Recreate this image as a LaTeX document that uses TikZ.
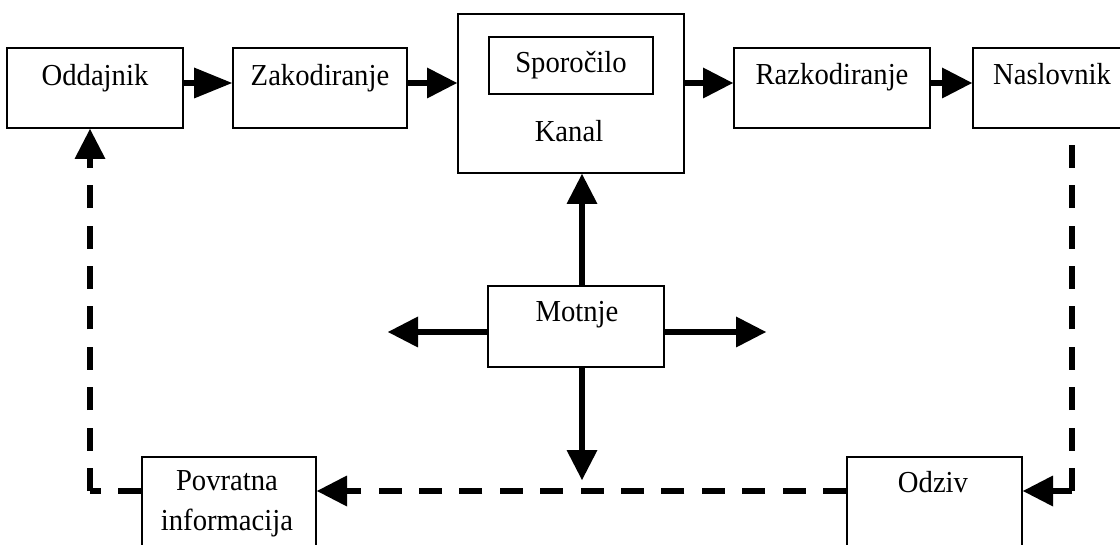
\documentclass[tikz,border=0pt]{standalone}
\usepackage{fontspec}
\setmainfont{Liberation Serif}[FakeStretch=0.94]
\usetikzlibrary{arrows.meta}
\begin{document}
\begin{tikzpicture}[x=1pt,y=-1pt,
  box/.style={draw, line width=2pt, inner sep=0pt, rectangle},
  lbl/.style={inner sep=0pt, anchor=base, font=\fontsize{30.5}{36}\selectfont},
  arr/.style={line width=6pt, -{Triangle[length=30pt,width=31pt,line width=0pt]}},
  arrlong/.style={line width=6pt, -{Triangle[length=38pt,width=31pt,line width=0pt]}},
  dashl/.style={line width=6pt, dash pattern=on 23pt off 17.4pt},
  dasharr/.style={dashl, -{Triangle[length=30pt,width=31pt,line width=0pt]}}
]
\path[use as bounding box, clip] (0,0) rectangle (1120,545);
\fill[white] (0,0) rectangle (1120,545);

% boxes
\node[box, minimum width=176pt, minimum height=80pt] (odd) at (95,88) {};
\node[box, minimum width=174pt, minimum height=80pt] (zak) at (320,88) {};
\node[box, minimum width=226pt, minimum height=159pt] (kan) at (571,93.5) {};
\node[box, minimum width=164pt, minimum height=57pt] (spo) at (571,65.5) {};
\node[box, minimum width=196pt, minimum height=80pt] (raz) at (832,88) {};
\node[box, minimum width=158pt, minimum height=80pt] (nas) at (1052,88) {};
\node[box, minimum width=176pt, minimum height=81pt] (mot) at (576,326.5) {};
\node[box, minimum width=175pt, minimum height=123pt] (odz) at (934.5,518.5) {};
\node[box, minimum width=174pt, minimum height=123pt] (pov) at (229,518.5) {};

% texts
\node[lbl] (toddajnik) at (95,86) {Oddajnik};
\node[lbl] (tzak) at (320,86) {Zakodiranje};
\node[lbl] (tspo) at (571,73) {Sporočilo};
\node[lbl] (tkan) at (569,142) {Kanal};
\node[lbl] (traz) at (832,85) {Razkodiranje};
\node[lbl] (tnas) at (1052,85) {Naslovnik};
\node[lbl] (tmot) at (577,322) {Motnje};
\node[lbl] (todz) at (933,493) {Odziv};
\node[lbl] (tpov1) at (227,490) {Povratna};
\node[lbl] (tpov2) at (227,530) {informacija};

% top chain
\draw[arrlong] ([yshift=5pt]odd.east) -- ([yshift=5pt]zak.west);
\draw[arr] ([yshift=5pt]zak.east) -- ([yshift=10.5pt]kan.west);
\draw[arr] ([yshift=10.5pt]kan.east) -- ([yshift=5pt]raz.west);
\draw[arr] ([yshift=5pt]raz.east) -- ([yshift=5pt]nas.west);

% Motnje arrows
\coordinate (ml) at (388,332);
\coordinate (mr) at (766,332);
\coordinate (md) at (582,480);
\draw[arr] ([xshift=6pt]mot.north) -- ([xshift=11pt]kan.south);
\draw[arr] ([yshift=-5.5pt]mot.west) -- (ml);
\draw[arr] ([yshift=-5.5pt]mot.east) -- (mr);
\draw[arr] ([xshift=6pt]mot.south) -- (md);

% feedback loop
\coordinate (cR) at (1072,491);
\coordinate (cL) at (90,491);
\draw[dashl] (cR) -- (cR |- nas.south);
\draw[dasharr] (cR) -- (cR -| odz.east);
\draw[dasharr] (cR -| odz.west) -- (cR -| pov.east);
\draw[dashl] (cR -| pov.west) -- (cL);
\draw[dasharr] (cL) -- (cL |- odd.south);
\end{tikzpicture}
\end{document}
